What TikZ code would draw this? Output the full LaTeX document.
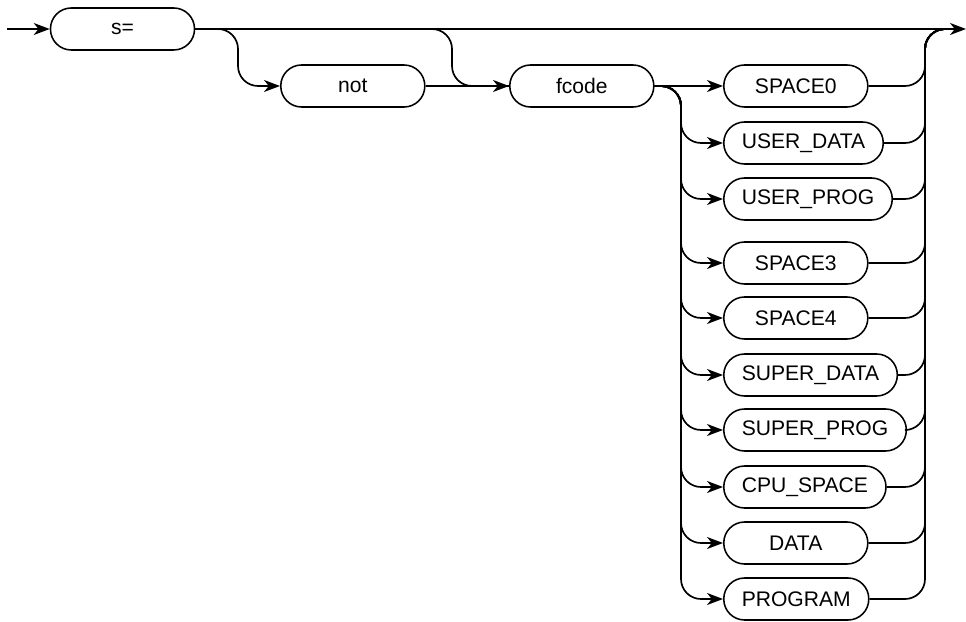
\documentclass[tikz,border=0pt]{standalone}
\usepackage{fontspec}
\setmainfont{Liberation Sans}
\usetikzlibrary{arrows.meta, positioning}
\tikzset
{%
term/.style={draw, rectangle, rounded corners=0.52cm, minimum height=1.05cm, minimum width=3.6cm, inner xsep=0.45cm, line width=1.1pt, font=\fontsize{15}{16}\selectfont},
rail/.style={line width=1.2pt, rounded corners=0.5cm},
>={Stealth[length=0.4cm, width=0.3cm, inset=0.12cm]}
}
\begin{document}
\begin{tikzpicture}[x=0.025cm, y=-0.025cm]
	\useasboundingbox (0,0) rectangle (966,622);
	%main line
	\coordinate (in) at (7,29);
	\coordinate (out) at (966,29);
	\coordinate (join) at (950,29);
	\node[term] (s) at (122.5,29) {s=};
	\node[term, anchor=west] (not) at (280,86) {not};
	\node[term, anchor=west] (fcode) at (509,86) {fcode};
	
	%function codes
	\node[term, anchor=west] (space0) at (723,86) {SPACE0};
	\node[term, anchor=west] (userdata) at (723,143) {USER\_DATA};
	\node[term, anchor=west] (userprog) at (723,199) {USER\_PROG};
	\node[term, anchor=west] (space3) at (723,263) {SPACE3};
	\node[term, anchor=west] (space4) at (723,318) {SPACE4};
	\node[term, anchor=west] (superdata) at (723,375) {SUPER\_DATA};
	\node[term, anchor=west] (superprog) at (723,430) {SUPER\_PROG};
	\node[term, anchor=west] (cpuspace) at (723,487) {CPU\_SPACE};
	\node[term, anchor=west] (data) at (723,543) {DATA};
	\node[term, anchor=west] (program) at (723,599) {PROGRAM};
	
	\draw[rail, ->] (in) -- (s);
	\draw[rail, ->] (s) -- (out);
	\draw[rail, ->] (s.east) -- (238,29) -- (238,86) -- (not);
	\draw[rail] (s.east) -- (452,29) -- (452,86) -- (fcode.west);
	\draw[rail, ->] (not) -- (fcode);
	\draw[rail, ->] (fcode) -- (space0);
	\draw[rail] (space0) -- (925,86) -- (925,29) -- (join);
	\foreach \n/\y in {userdata/143, userprog/199, space3/263, space4/318, superdata/375, superprog/430, cpuspace/487, data/543, program/599}
	{
		\draw[rail, ->] (fcode.east) -- (681,86) -- (681,\y) -- (\n.west);
		\draw[rail] (\n.east) -- (925,\y) -- (925,29) -- (join);
	}
\end{tikzpicture}
\end{document}
